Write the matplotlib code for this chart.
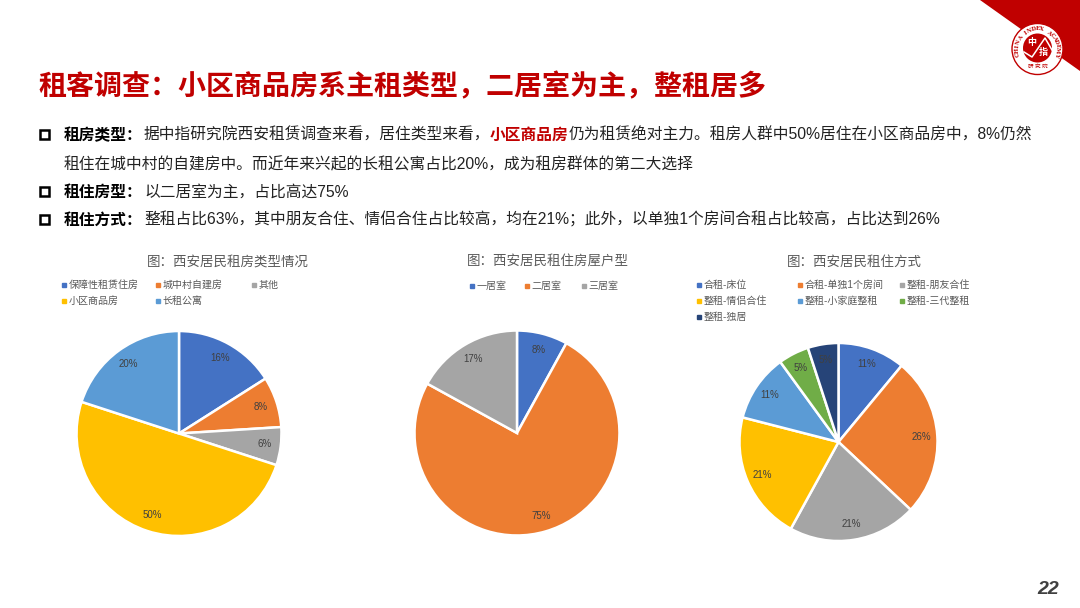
import matplotlib
matplotlib.use('Agg')
import matplotlib.pyplot as plt
from matplotlib.lines import Line2D
from matplotlib.patches import Polygon, Circle, Rectangle
import numpy as np

plt.rcParams['font.family'] = ['Liberation Sans', 'Noto Sans CJK SC']

# 1. Data
type_labels = ['保障性租赁住房', '城中村自建房', '其他', '小区商品房', '长租公寓']
type_values = [16, 8, 6, 50, 20]
layout_labels = ['一居室', '二居室', '三居室']
layout_values = [8, 75, 17]
mode_labels = ['合租-床位', '合租-单独1个房间', '整租-朋友合住', '整租-情侣合住',
               '整租-小家庭整租', '整租-三代整租', '整租-独居']
mode_values = [11, 26, 21, 21, 11, 5, 5]

colors = ['#4472C4', '#ED7D31', '#A5A5A5', '#FFC000', '#5B9BD5', '#70AD47', '#264478']
RED = '#C00000'
GRAY = '#595959'
INK = '#222222'
W, H = 1080, 608

fig = plt.figure(figsize=(W / 100, H / 100), dpi=100, facecolor='white')

# 2. Page layer in pixel coordinates
page = fig.add_axes([0, 0, 1, 1])
page.set_xlim(0, W)
page.set_ylim(H, 0)
page.axis('off')

# corner and logo
page.add_patch(Polygon([(980, 0), (1080, 0), (1080, 71)], color=RED, lw=0))
page.add_patch(Circle((1037.5, 49), 25.5, fc='white', ec=RED, lw=1))
page.add_patch(Circle((1037.5, 48), 14.5, fc=RED, lw=0))
page.plot([1024, 1032, 1045, 1052], [52, 57, 38, 50], color='white', lw=1.1)
page.text(1032, 43, '中', color='white', fontsize=6.5, weight='bold', ha='center', va='center')
page.text(1043, 53, '指', color='white', fontsize=6.5, weight='bold', ha='center', va='center')
ring = 'CHINA INDEX ACADEMY'
for ch, ang in zip(ring, np.linspace(195, -15, len(ring))):
    a = np.radians(ang)
    page.text(1037.5 + 20 * np.cos(a), 49 - 20 * np.sin(a), ch, color=RED, fontsize=4,
              family='DejaVu Serif', weight='bold', rotation=ang - 90, ha='center', va='center')
page.text(1037.5, 66, '研 究 院', color=RED, fontsize=4, ha='center', va='center')

# headline
page.text(38, 95, '租客调查：小区商品房系主租类型，二居室为主，整租居多', color=RED,
          fontsize=20.2, weight='bold', va='baseline')

# bullets
for y in [134, 191, 219]:
    page.add_patch(Rectangle((40, y - 4.5), 9, 9, fc='white', ec='black', lw=1.8))

# body lines share a baseline, va='center' would shift them with the glyphs in each piece
BODY = 11.32
page.text(64, 140, '租房类型：', fontsize=BODY, weight='bold', color='black')
page.text(144, 140, '据中指研究院西安租赁调查来看，居住类型来看，', fontsize=BODY, color=INK)
page.text(490, 140, '小区商品房', fontsize=BODY, weight='bold', color=RED)
page.text(569, 140, '仍为租赁绝对主力。租房人群中50%居住在小区商品房中，8%仍然', fontsize=BODY, color=INK)
page.text(64, 169, '租住在城中村的自建房中。而近年来兴起的长租公寓占比20%，成为租房群体的第二大选择',
          fontsize=BODY, color=INK)
page.text(64, 197, '租住房型：', fontsize=BODY, weight='bold', color='black')
page.text(144, 197, '以二居室为主，占比高达75%', fontsize=BODY, color=INK)
page.text(64, 225, '租住方式：', fontsize=BODY, weight='bold', color='black')
page.text(144, 225, '整租占比63%，其中朋友合住、情侣合住占比较高，均在21%；此外，以单独1个房间合租占比较高，占比达到26%',
          fontsize=BODY, color=INK)

# page number
page.text(1048, 589, '22', fontsize=14, weight='bold', style='italic', color='#404040',
          ha='center', va='center')


# 3. Pies
def draw_pie(cx, cy, r, values, labels, title, title_x, legend_cols, legend_xs, legend_y):
    ax = fig.add_axes([(cx - r) / W, 1 - (cy + r) / H, 2 * r / W, 2 * r / H])
    wedges, _, autotexts = ax.pie(values, colors=colors[:len(values)], startangle=90,
                                  counterclock=False, autopct='%d%%', pctdistance=0.84,
                                  wedgeprops={'edgecolor': 'white', 'linewidth': 1.8},
                                  textprops={'fontsize': 7, 'color': '#404040'})
    ax.set_xlim(-1.01, 1.01)
    ax.set_ylim(-1.01, 1.01)
    page.text(title_x, 262, title, fontsize=9.7, color=GRAY, ha='center', va='center')

    # one legend per column, the columns on the slide are not evenly wide
    for idx, x in zip(legend_cols, legend_xs):
        handles = [Line2D([], [], ls='', marker='s', ms=2.2, color=colors[i]) for i in idx]
        fig.legend(handles, [labels[i] for i in idx], loc='upper left',
                   bbox_to_anchor=(x / W, 1 - legend_y / H), frameon=False, borderpad=0,
                   borderaxespad=0, handlelength=0.5, handletextpad=0.25, labelspacing=0.62,
                   prop={'size': 7.2}, labelcolor=GRAY)


draw_pie(179, 433.5, 103.5, type_values, type_labels, '图：西安居民租房类型情况', 227.5,
         [[0, 3], [1, 4], [2]], [61, 155, 251], 280)
draw_pie(517, 433, 103.5, layout_values, layout_labels, '图：西安居民租住房屋户型', 548,
         [[0], [1], [2]], [469, 524, 581], 281)
draw_pie(838.5, 442, 100, mode_values, mode_labels, '图：西安居民租住方式', 854.5,
         [[0, 3, 6], [1, 4], [2, 5]], [696, 797, 899], 280)

fig.savefig('out.png', dpi=100)
